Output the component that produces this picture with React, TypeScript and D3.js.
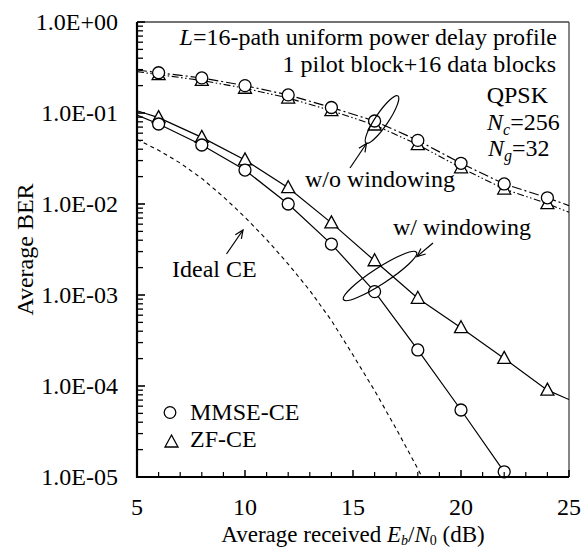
import React from "react";
import * as d3 from "d3";

// ---- data -------------------------------------------------------------
const markerSnr = [6, 8, 10, 12, 14, 16, 18, 20, 22, 24];

// without windowing
const mmseNoWin = [0.277, 0.243, 0.2, 0.158, 0.115, 0.0817, 0.05, 0.028, 0.0166, 0.0117];
const zfNoWin = [0.264, 0.228, 0.187, 0.146, 0.106, 0.0738, 0.0449, 0.025, 0.0146, 0.0101];

// with windowing
const mmseWin = [0.0757, 0.0445, 0.0236, 0.01, 0.00363, 0.00109, 2.49e-4, 5.45e-5, 1.14e-5];
const zfWin = [0.089, 0.054, 0.0305, 0.0151, 0.0062, 0.00238, 9.2e-4, 4.37e-4, 2.01e-4, 9.0e-5];

// BER where each curve meets the 5 dB and 25 dB frame edges (null = no segment)
const edgeSnr = [5, 25];
const mmseNoWinEdges = [0.297, 0.0096];
const zfNoWinEdges = [0.285, 0.0081];
const mmseWinEdges = [0.095, null];
const zfWinEdges = [0.106, 7.1e-5];

// ideal channel estimation (theory curve)
const idealSnr = [5, 6, 7, 8, 9, 10, 11, 12, 13, 14, 15, 16, 17, 18, 18.2];
const idealBer = [
  0.0513, 0.0389, 0.0282, 0.0191, 0.012, 0.00716, 0.00407, 0.00219, 0.00112,
  5.25e-4, 2.19e-4, 8.9e-5, 3.39e-5, 1.23e-5, 1.0e-5,
];

const xTicks = [5, 10, 15, 20, 25];
const xTickLabels = ["5", "10", "15", "20", "25"];
const yTicks = [1, 0.1, 0.01, 1e-3, 1e-4, 1e-5];
const yTickLabels = ["1.0E+00", "1.0E-01", "1.0E-02", "1.0E-03", "1.0E-04", "1.0E-05"];

// ---- layout -----------------------------------------------------------
const W = 586;
const H = 550;
const left = 137;
const right = 569;
const top = 22;
const bottom = 477;
const FONT = '"Liberation Serif", "Times New Roman", Times, serif';

const x = d3.scaleLinear().domain([5, 25]).range([left, right]);
const y = d3.scaleLog().domain([1e-5, 1]).range([bottom, top]);

type Pt = [number, number];

function curve(values: number[], edges: (number | null)[]): Pt[] {
  const pts: Pt[] = [];
  if (edges[0] != null) pts.push([edgeSnr[0], edges[0] as number]);
  values.forEach((v, i) => pts.push([markerSnr[i], v]));
  if (edges[1] != null) pts.push([edgeSnr[1], edges[1] as number]);
  return pts;
}

const line = d3
  .line<Pt>()
  .x((d) => x(d[0]))
  .y((d) => y(d[1]));

const triPath = "M0,-7 L6.5,5 L-6.5,5 Z";

function Circles({ values }: { values: number[] }) {
  return (
    <g>
      {values.map((v, i) => (
        <circle
          key={i}
          cx={x(markerSnr[i])}
          cy={y(v)}
          r={6}
          fill="#fff"
          stroke="#000"
          strokeWidth={1.3}
        />
      ))}
    </g>
  );
}

function Triangles({ values }: { values: number[] }) {
  return (
    <g>
      {values.map((v, i) => (
        <path
          key={i}
          d={triPath}
          transform={`translate(${x(markerSnr[i])},${y(v)})`}
          fill="#fff"
          stroke="#000"
          strokeWidth={1.3}
        />
      ))}
    </g>
  );
}

function Arrow({ x1, y1, x2, y2 }: { x1: number; y1: number; x2: number; y2: number }) {
  const ang = Math.atan2(y2 - y1, x2 - x1);
  const len = 9;
  const spread = 0.42;
  const a1: Pt = [x2 - len * Math.cos(ang - spread), y2 - len * Math.sin(ang - spread)];
  const a2: Pt = [x2 - len * Math.cos(ang + spread), y2 - len * Math.sin(ang + spread)];
  return (
    <g stroke="#000" strokeWidth={1.2} fill="none">
      <line x1={x1} y1={y1} x2={x2} y2={y2} />
      <polyline points={`${a1[0]},${a1[1]} ${x2},${y2} ${a2[0]},${a2[1]}`} />
    </g>
  );
}

export default function App() {
  // minor y ticks: 2..9 within each decade
  const minorY: number[] = [];
  for (let e = -5; e < 0; e++) {
    for (let m = 2; m <= 9; m++) minorY.push(m * Math.pow(10, e));
  }
  const minorX = d3.range(6, 25).filter((v) => v % 5 !== 0);

  return (
    <svg
      width={W}
      height={H}
      viewBox={`0 0 ${W} ${H}`}
      style={{ position: "absolute", left: 0, top: 0, background: "#fff" }}
      fontFamily={FONT}
    >
      <defs>
        <clipPath id="plotArea">
          <rect x={left} y={top} width={right - left} height={bottom - top} />
        </clipPath>
      </defs>

      {/* frame */}
      <line x1={left} y1={top} x2={right} y2={top} stroke="#444" strokeWidth={1.3} />
      <line x1={right} y1={top} x2={right} y2={bottom} stroke="#444" strokeWidth={1.3} />

      {/* curves */}
      <g clipPath="url(#plotArea)" fill="none" stroke="#000">
        <path
          d={line(idealSnr.map((s, i) => [s, idealBer[i]] as Pt)) || ""}
          strokeWidth={1.1}
          strokeDasharray="4,3.5"
        />
        <path
          d={line(curve(zfNoWin, zfNoWinEdges)) || ""}
          strokeWidth={1.1}
          strokeDasharray="7,2.5,1.5,2.5,1.5,2.5"
        />
        <path
          d={line(curve(mmseNoWin, mmseNoWinEdges)) || ""}
          strokeWidth={1.2}
          strokeDasharray="10,3,2,3"
        />
        <path d={line(curve(zfWin, zfWinEdges)) || ""} strokeWidth={1.2} />
        <path d={line(curve(mmseWin, mmseWinEdges)) || ""} strokeWidth={1.2} />
      </g>

      {/* markers */}
      <Triangles values={zfNoWin} />
      <Circles values={mmseNoWin} />
      <Triangles values={zfWin} />
      <Circles values={mmseWin} />

      {/* axes */}
      <line x1={left} y1={top} x2={left} y2={bottom + 1} stroke="#000" strokeWidth={2.2} />
      <line x1={left - 1} y1={bottom} x2={right} y2={bottom} stroke="#000" strokeWidth={2.2} />
      {yTicks.map((t) => (
        <line key={`ym${t}`} x1={left} x2={left + 8} y1={y(t)} y2={y(t)} stroke="#000" strokeWidth={1.6} />
      ))}
      {minorY.map((t, i) => (
        <line key={`yn${i}`} x1={left} x2={left + 6} y1={y(t)} y2={y(t)} stroke="#000" strokeWidth={1.3} />
      ))}
      {xTicks.map((t) => (
        <line key={`xm${t}`} x1={x(t)} x2={x(t)} y1={bottom} y2={bottom - 7} stroke="#000" strokeWidth={1.5} />
      ))}
      {minorX.map((t) => (
        <line key={`xn${t}`} x1={x(t)} x2={x(t)} y1={bottom} y2={bottom - 5} stroke="#000" strokeWidth={1.2} />
      ))}

      {/* tick labels */}
      <g fontSize={24} fill="#000">
        {yTicks.map((t, i) => (
          <text key={`yl${t}`} x={118} y={y(t)} dy="0.34em" textAnchor="end">
            {yTickLabels[i]}
          </text>
        ))}
        {xTicks.map((t, i) => (
          <text key={`xl${t}`} x={x(t)} y={515} textAnchor="middle">
            {xTickLabels[i]}
          </text>
        ))}
      </g>

      {/* axis titles */}
      <text
        fontSize={24}
        textAnchor="middle"
        transform={`translate(33,${(top + bottom) / 2}) rotate(-90)`}
      >
        Average BER
      </text>
      <text fontSize={23} x={(left + right) / 2} y={542} textAnchor="middle">
        Average received <tspan fontStyle="italic">E</tspan>
        <tspan fontStyle="italic" fontSize={14} dy={3}>b</tspan>
        <tspan dy={-3}>/</tspan>
        <tspan fontStyle="italic">N</tspan>
        <tspan fontSize={14} dy={3}>0</tspan>
        <tspan dy={-3}> (dB)</tspan>
      </text>

      {/* simulation conditions */}
      <g fontSize={24} fill="#000">
        <text x={557} y={45} textAnchor="end">
          <tspan fontStyle="italic">L</tspan>=16-path uniform power delay profile
        </text>
        <text x={556} y={72} textAnchor="end">
          1 pilot block+16 data blocks
        </text>
        <text x={548} y={103} textAnchor="end">
          QPSK
        </text>
        <text x={487} y={130}>
          <tspan fontStyle="italic">N</tspan>
          <tspan fontStyle="italic" fontSize={16} dy={5}>c</tspan>
          <tspan dy={-5}>=256</tspan>
        </text>
        <text x={488} y={156}>
          <tspan fontStyle="italic">N</tspan>
          <tspan fontStyle="italic" fontSize={16} dy={5}>g</tspan>
          <tspan dy={-5}>=32</tspan>
        </text>
      </g>

      {/* annotations */}
      <g fill="none" stroke="#000" strokeWidth={1.2}>
        <ellipse cx={382} cy={119.5} rx={28.5} ry={6.5} transform="rotate(-56 382 119.5)" />
        <ellipse cx={380} cy={276} rx={43.5} ry={8} transform="rotate(-33 380 276)" />
      </g>
      <Arrow x1={350} y1={168} x2={366.5} y2={143.5} />
      <Arrow x1={433} y1={243} x2={417} y2={256.5} />
      <Arrow x1={226.5} y1={254} x2={243} y2={230} />
      <g fontSize={24} fill="#000">
        <text x={305} y={187}>w/o windowing</text>
        <text x={393} y={235}>w/ windowing</text>
        <text x={172} y={277}>Ideal CE</text>
      </g>

      {/* legend */}
      <circle cx={170} cy={412.5} r={5.8} fill="#fff" stroke="#000" strokeWidth={1.3} />
      <path d={triPath} transform="translate(171.5,442)" fill="#fff" stroke="#000" strokeWidth={1.3} />
      <g fontSize={24} fill="#000">
        <text x={190} y={419.5}>MMSE-CE</text>
        <text x={190} y={447}>ZF-CE</text>
      </g>
    </svg>
  );
}
